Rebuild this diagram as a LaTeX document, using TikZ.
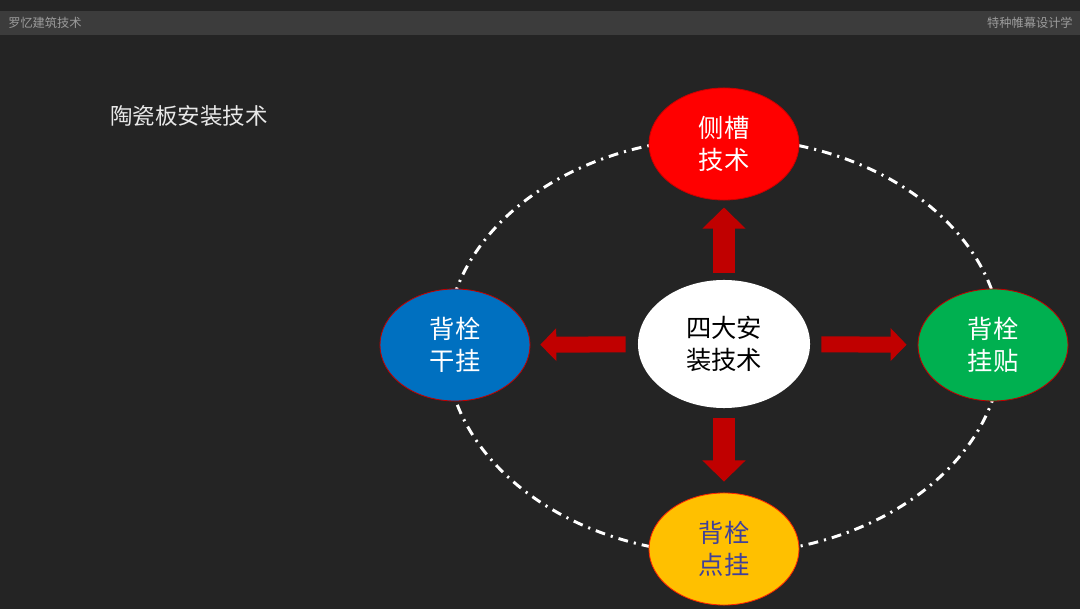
\documentclass[tikz,border=0pt]{standalone}
\usepackage{fontspec}
\newfontfamily\cjk{Noto Sans CJK SC}
\usepackage{tikz}
\usetikzlibrary{arrows.meta,shapes.geometric}
\definecolor{bgdark}{HTML}{242424}
\definecolor{bargray}{HTML}{3C3C3C}
\definecolor{bartextgray}{HTML}{9C9C9C}
\definecolor{titlegray}{HTML}{E8E8E8}
\definecolor{arrowred}{HTML}{C00000}
\definecolor{techred}{HTML}{FF0000}
\definecolor{techblue}{HTML}{0070C0}
\definecolor{techgreen}{HTML}{00B050}
\definecolor{techyellow}{HTML}{FFC000}
\definecolor{inkblue}{HTML}{40409A}

\begin{document}
\begin{tikzpicture}[x=0.025cm,y=-0.025cm,
      every node/.style={font=\cjk},
      bartext/.style={text=bartextgray,font=\cjk\fontsize{8.7}{10}\selectfont,inner sep=0pt},
      tech/.style={ellipse,draw=arrowred,line width=0.6pt,minimum width=3.75cm,
        minimum height=2.8cm,inner sep=0pt,align=center,text=white,
        font=\cjk\fontsize{18}{23}\selectfont},
      hub/.style={tech,draw=none,fill=white,text=black,minimum width=4.3cm,minimum height=3.2cm},
      varrow/.style={-{Triangle[width=1.05cm,length=0.53cm]},line width=0.55cm,arrowred},
      harrow/.style={-{Triangle[width=0.8cm,length=0.4cm]},line width=0.4cm,arrowred},
      orbit/.style={white,line width=2.1pt,dash pattern=on 7pt off 4.3pt on 1.5pt off 4.3pt}]
  \fill[bgdark] (0,0) rectangle (1080,609);
  \useasboundingbox (0,0) rectangle (1080,609);
  \fill[bargray] (0,11) rectangle (1080,35);
  \node[bartext,anchor=west] (brand) at (8,23) {罗忆建筑技术};
  \node[bartext,anchor=east] (series) at (1073,23) {特种帷幕设计学};
  \node[anchor=west,inner sep=0pt,text=titlegray,font=\cjk\fontsize{16}{18}\selectfont]
    (title) at (110,116) {陶瓷板安装技术};
  % dash-dot ring behind the five ellipses
  \draw[orbit] (724,346) ellipse [x radius=278,y radius=208];
  \node[hub] (hub) at (724,344) {四大安\\装技术};
  \node[tech,fill=techred,draw=red!80!black] (slot) at (724,144) {侧槽\\技术};
  \node[tech,fill=techblue] (dry) at (455,345) {背栓\\干挂};
  \node[tech,fill=techgreen] (stick) at (993,345) {背栓\\挂贴};
  \node[tech,fill=techyellow,draw=red!70!orange,text=inkblue] (point) at (724,549) {背栓\\点挂};
  \draw[varrow,shorten <=5pt,shorten >=5pt] (hub) -- (slot);
  \draw[harrow,shorten <=8.5pt,shorten >=7pt] (hub) -- (dry);
  \draw[harrow,shorten <=7.8pt,shorten >=7.8pt] (hub) -- (stick);
  \draw[varrow,shorten <=6.8pt,shorten >=7.8pt] (hub) -- (point);
\end{tikzpicture}
\end{document}
